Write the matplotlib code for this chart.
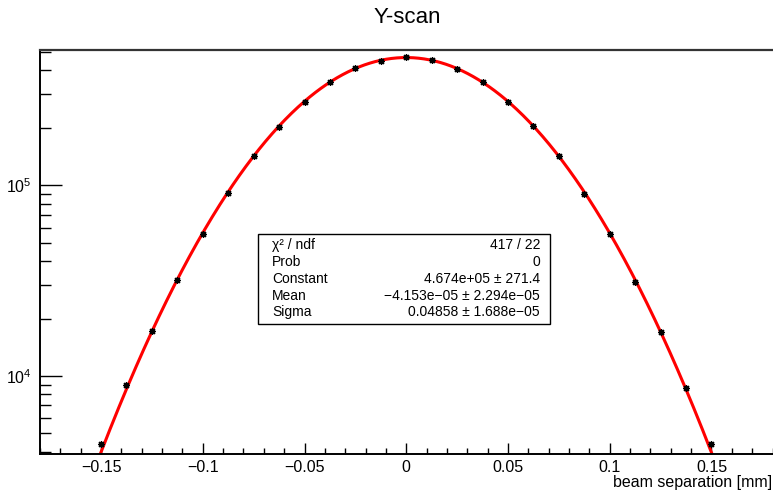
import numpy as np
import matplotlib
matplotlib.use("Agg")
import matplotlib.pyplot as plt
from matplotlib.ticker import MultipleLocator, LogLocator, NullFormatter
from matplotlib.patches import Rectangle

plt.rcParams['font.family'] = ['Liberation Sans', 'DejaVu Sans']
plt.rcParams['mathtext.fontset'] = 'custom'
plt.rcParams['mathtext.rm'] = 'Liberation Sans'
plt.rcParams['mathtext.default'] = 'regular'

# beam separation scan points [mm] and measured rates
separation = [-0.15, -0.1375, -0.125, -0.1125, -0.1, -0.0875, -0.075, -0.0625,
              -0.05, -0.0375, -0.025, -0.0125, 0.0, 0.0125, 0.025, 0.0375,
              0.05, 0.0625, 0.075, 0.0875, 0.1, 0.1125, 0.125, 0.1375, 0.15]
rate = [4400, 9000, 17100, 31800, 55500, 91500, 141500, 203000,
        274500, 346000, 410000, 451000, 468000, 452000, 408000, 347000,
        274000, 204000, 142000, 90000, 55500, 31200, 17000, 8600, 4380]

# gaussian fit results
fit_const = 4.674e5
fit_mean = -4.153e-05
fit_sigma = 0.04858

stat_names = ["χ² / ndf", "Prob", "Constant", "Mean", "Sigma"]
stat_values = ["417 / 22", "0", "4.674e+05 ± 271.4",
               "−4.153e−05 ± 2.294e−05", "0.04858 ± 1.688e−05"]

W, H = 773, 494
fig = plt.figure(figsize=(W / 100, H / 100), dpi=100)
ax = fig.add_axes([40 / W, 1 - 454 / H, 732.5 / W, 404 / H])

x = np.array(separation)
y = np.array(rate)
xf = np.linspace(-0.16, 0.16, 600)
yf = fit_const * np.exp(-0.5 * ((xf - fit_mean) / fit_sigma) ** 2)
ax.plot(xf, yf, color='#ff0000', lw=2.2, zorder=2)
ax.errorbar(x, y, yerr=np.sqrt(y), fmt='none', ecolor='black', elinewidth=0.8, zorder=3)
ax.plot(x, y, ls='none', marker=(8, 2, 0), ms=5, mew=0.9, color='black', zorder=4)

ax.set_yscale('log')
ax.set_xlim(-0.18, 0.18)
ax.set_ylim(3895, 5.12e5)

ax.xaxis.set_major_locator(MultipleLocator(0.05))
ax.xaxis.set_minor_locator(MultipleLocator(0.01))
ax.xaxis.set_major_formatter(plt.FuncFormatter(
    lambda v, p: ('0' if abs(v) < 1e-9 else f'{v:g}').replace('-', '−')))
ax.yaxis.set_major_locator(LogLocator(base=10))
ax.yaxis.set_minor_locator(LogLocator(base=10, subs=np.arange(2, 10)))
ax.yaxis.set_minor_formatter(NullFormatter())

ax.tick_params(axis='x', which='major', direction='in', length=8, width=1, labelsize=11.5, pad=4)
ax.tick_params(axis='x', which='minor', direction='in', length=4.3, width=1)
ax.tick_params(axis='y', which='major', direction='in', length=16, width=1, labelsize=11.5, pad=6)
ax.tick_params(axis='y', which='minor', direction='in', length=8, width=1)

for side in ['left', 'bottom']:
    ax.spines[side].set_linewidth(1.4)
ax.spines['top'].set_linewidth(1.6)
ax.spines['top'].set_color('#333333')
ax.spines['right'].set_linewidth(0.6)
ax.spines['right'].set_color('#cccccc')

fig.text(407 / W, 1 - 17.5 / H, "Y-scan", ha='center', va='center', fontsize=16)
fig.text(772 / W, 1 - 482 / H, "beam separation [mm]", ha='right', va='center', fontsize=11.5)

# fit statistics box
bx0, bx1, by0, by1 = 258, 550, 234, 324
fig.patches.append(Rectangle((bx0 / W, 1 - by1 / H), (bx1 - bx0) / W, (by1 - by0) / H,
                             transform=fig.transFigure, facecolor='white',
                             edgecolor='black', lw=1.0, zorder=5))
rows = [245, 262, 279, 295.5, 312]
for name, val, ry in zip(stat_names, stat_values, rows):
    fig.text(272 / W, 1 - ry / H, name, ha='left', va='center', fontsize=10, zorder=6)
    fig.text(540 / W, 1 - ry / H, val, ha='right', va='center', fontsize=10, zorder=6)

fig.savefig('out.png', dpi=100)
